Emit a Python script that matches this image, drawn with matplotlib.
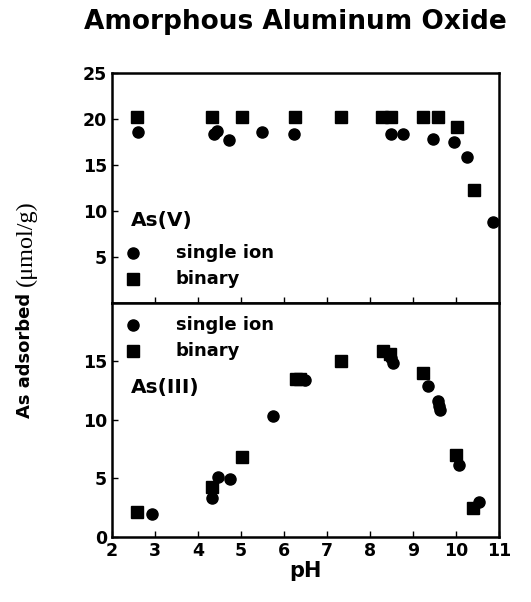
import matplotlib
matplotlib.use("Agg")
import matplotlib.pyplot as plt

plt.rcParams['font.family'] = ['DejaVu Sans']
plt.rcParams['font.weight'] = 'bold'

# As(V) - top panel
v_single_ph = [2.6, 4.36, 4.45, 4.72, 5.48, 6.22, 8.48, 8.77, 9.47, 9.95, 10.25, 10.85]
v_single = [18.6, 18.3, 18.7, 17.7, 18.6, 18.3, 18.3, 18.3, 17.8, 17.5, 15.8, 8.8]
v_binary_ph = [2.58, 4.32, 5.02, 6.26, 7.32, 8.27, 8.49, 9.23, 9.58, 10.02, 10.42]
v_binary = [20.2, 20.2, 20.2, 20.2, 20.2, 20.2, 20.2, 20.2, 20.2, 19.1, 12.3]

# As(III) - bottom panel
iii_single_ph = [2.92, 4.32, 4.47, 4.74, 5.74, 6.49, 8.48, 8.54, 9.34, 9.59, 9.60, 9.62, 10.07, 10.53]
iii_single = [2.0, 3.3, 5.15, 4.95, 10.3, 13.4, 15.3, 14.85, 12.9, 11.6, 11.2, 10.85, 6.15, 3.0]
iii_binary_ph = [2.59, 4.32, 5.02, 6.28, 6.36, 7.32, 8.29, 8.46, 9.23, 10.0, 10.39]
iii_binary = [2.1, 4.25, 6.8, 13.5, 13.45, 15.0, 15.9, 15.6, 14.0, 7.0, 2.5]

fig = plt.figure(figsize=(5.31, 6.02), dpi=100)
ax1 = fig.add_axes([0.211, 0.497, 0.729, 0.382])
ax2 = fig.add_axes([0.211, 0.108, 0.729, 0.389])

ms = 8
for ax in (ax1, ax2):
    ax.set_xlim(2, 11)
    ax.tick_params(direction='in', labelsize=12.5, length=4, width=1)
    for s in ax.spines.values():
        s.set_linewidth(1.8)

ax1.plot(v_single_ph, v_single, 'o', color='black', ms=ms)
ax1.plot(v_binary_ph, v_binary, 's', color='black', ms=ms)
ax1.set_ylim(0, 25)
ax1.set_yticks([5, 10, 15, 20, 25])
ax1.set_xticks(range(3, 11))
ax1.tick_params(labelbottom=False)

ax2.plot(iii_single_ph, iii_single, 'o', color='black', ms=ms)
ax2.plot(iii_binary_ph, iii_binary, 's', color='black', ms=ms)
ax2.set_ylim(0, 20)
ax2.set_yticks([0, 5, 10, 15])
ax2.set_xticks(range(2, 12))

# legends and panel labels
tk = dict(fontsize=13, va='center')
ax1.text(0.05, 0.36, 'As(V)', transform=ax1.transAxes, fontsize=14.5, va='center')
ax1.plot([0.055], [0.217], 'o', color='black', ms=ms, transform=ax1.transAxes, clip_on=False)
ax1.text(0.165, 0.217, 'single ion', transform=ax1.transAxes, **tk)
ax1.plot([0.055], [0.104], 's', color='black', ms=ms, transform=ax1.transAxes, clip_on=False)
ax1.text(0.165, 0.104, 'binary', transform=ax1.transAxes, **tk)

ax2.plot([0.055], [0.905], 'o', color='black', ms=ms, transform=ax2.transAxes, clip_on=False)
ax2.text(0.165, 0.905, 'single ion', transform=ax2.transAxes, **tk)
ax2.plot([0.055], [0.795], 's', color='black', ms=ms, transform=ax2.transAxes, clip_on=False)
ax2.text(0.165, 0.795, 'binary', transform=ax2.transAxes, **tk)
ax2.text(0.05, 0.637, 'As(III)', transform=ax2.transAxes, fontsize=14.5, va='center')

ax2.set_xlabel('pH', fontsize=15, fontweight='bold', labelpad=1)

# y label: sans part + serif unit part
t1 = fig.text(0.047, 0.306, 'As adsorbed ', rotation=90, fontsize=13,
              ha='center', va='bottom')
fig.canvas.draw()
bb = t1.get_window_extent(renderer=fig.canvas.get_renderer())
y_next = bb.y1 / fig.bbox.height
fig.text(0.049, y_next, '(\u03bcmol/g)', rotation=90, fontsize=17.5,
         family=['Liberation Serif', 'DejaVu Serif'], fontweight='normal',
         ha='center', va='bottom')

fig.text(0.557, 0.952, 'Amorphous Aluminum Oxide', fontsize=19,
         ha='center', va='baseline')

fig.savefig('out.png', dpi=100)
